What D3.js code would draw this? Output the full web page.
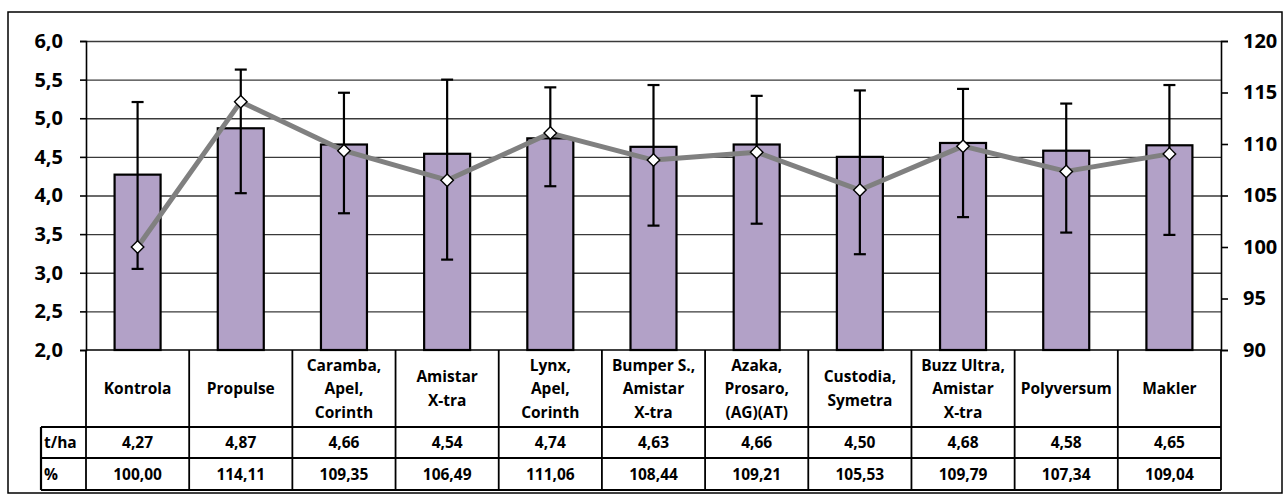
<!DOCTYPE html>
<html><head><meta charset="utf-8">
<script src="https://cdn.jsdelivr.net/npm/d3@7"></script>
<style>
html,body{margin:0;padding:0;background:#fff;}
svg{display:block;}
text{font-family:"Open Sans",Lato,sans-serif;font-weight:700;}
</style></head>
<body><svg id="c" width="1283" height="494"></svg>
<script>
const categories = [["Kontrola"],["Propulse"],["Caramba,","Apel,","Corinth"],["Amistar","X-tra"],["Lynx,","Apel,","Corinth"],["Bumper S.,","Amistar","X-tra"],["Azaka,","Prosaro,","(AG)(AT)"],["Custodia,","Symetra"],["Buzz Ultra,","Amistar","X-tra"],["Polyversum"],["Makler"]];
const yieldTha = [4.27,4.87,4.66,4.54,4.74,4.63,4.66,4.50,4.68,4.58,4.65];
const percent = [100.00,114.11,109.35,106.49,111.06,108.44,109.21,105.53,109.79,107.34,109.04];
const errHigh = [5.21,5.63,5.33,5.50,5.40,5.43,5.29,5.36,5.38,5.19,5.43];
const errLow  = [3.05,4.03,3.77,3.17,4.12,3.61,3.635,3.24,3.72,3.52,3.49];
const leftTicks = [2.0,2.5,3.0,3.5,4.0,4.5,5.0,5.5,6.0];
const rightTicks = [90,95,100,105,110,115,120];
const rowLabels = ["t/ha","%"];

const svg = d3.select("#c");
const X0 = 86, X1 = 1221, Y0 = 41, Y1 = 350;
const idx = d3.range(categories.length);
const x = d3.scaleBand().domain(idx).range([X0, X1]).paddingInner(0).paddingOuter(0);
const yL = d3.scaleLinear().domain([2,6]).range([Y1, Y0]);
const yR = d3.scaleLinear().domain([90,120]).range([Y1, Y0]);
const comma = (f) => (v) => d3.format(f)(v).replace(".", ",");

// outer frame
svg.append("rect").attr("x",8).attr("y",12).attr("width",1274).attr("height",481)
  .attr("fill","none").attr("stroke","#000").attr("stroke-width",1.5);

// gridlines
svg.append("g").selectAll("line").data(leftTicks.filter(d=>d>2)).join("line")
  .attr("x1",X0).attr("x2",X1).attr("y1",d=>yL(d)+0.5).attr("y2",d=>yL(d)+0.5)
  .attr("stroke","#3a3a3a").attr("stroke-width",1.3);

// axes
const axL = svg.append("g").attr("transform",`translate(${X0},0)`)
  .call(d3.axisLeft(yL).tickValues(leftTicks).tickFormat(comma(".1f")).tickSize(6).tickPadding(17));
const axR = svg.append("g").attr("transform",`translate(${X1},0)`)
  .call(d3.axisRight(yR).tickValues(rightTicks).tickFormat(d3.format("d")).tickSize(7).tickPadding(15));
[axL, axR].forEach(a=>{
  a.select(".domain").attr("stroke","#000").attr("stroke-width",1.6);
  a.selectAll(".tick line").attr("stroke","#000").attr("stroke-width",1.6);
  a.selectAll(".tick text").attr("font-size",20).attr("font-family",null).attr("fill","#000");
});

// bars
const bw = 46;
const cx = i => x(i) + x.bandwidth()/2;
svg.append("g").selectAll("rect").data(yieldTha).join("rect")
  .attr("x",(d,i)=>cx(i)-bw/2).attr("y",d=>yL(d)).attr("width",bw).attr("height",d=>Y1-yL(d))
  .attr("fill","#b2a1c7").attr("stroke","#000").attr("stroke-width",2.2);

// error bars
const eg = svg.append("g").attr("stroke","#000").attr("stroke-width",2.2);
idx.forEach(i=>{
  eg.append("line").attr("x1",cx(i)).attr("x2",cx(i)).attr("y1",yL(errHigh[i])).attr("y2",yL(errLow[i]));
  [errHigh[i],errLow[i]].forEach(v=>{
    eg.append("line").attr("x1",cx(i)-6).attr("x2",cx(i)+6).attr("y1",yL(v)).attr("y2",yL(v));
  });
});

// line
svg.append("path").datum(percent)
  .attr("d", d3.line().x((d,i)=>cx(i)).y(d=>yR(d)))
  .attr("fill","none").attr("stroke","#808080").attr("stroke-width",5).attr("stroke-linejoin","round");
svg.append("g").selectAll("path").data(percent).join("path")
  .attr("d", d3.symbol().type(d3.symbolDiamond2).size(100))
  .attr("transform",(d,i)=>`translate(${cx(i)},${yR(d)})`)
  .attr("fill","#fff").attr("stroke","#000").attr("stroke-width",1.4);

// table
const T0 = Y1, T1 = 427, T2 = 458, T3 = 490, LX = 41;
const tg = svg.append("g").attr("stroke","#000");
idx.concat([categories.length]).forEach(i=>{
  const xx = i < categories.length ? x(i) : X1;
  tg.append("line").attr("x1",xx).attr("x2",xx).attr("y1",T0).attr("y2",T3).attr("stroke-width",1.8);
});
[T1,T2,T3].forEach(yy=>{
  tg.append("line").attr("x1",LX).attr("x2",X1).attr("y1",yy).attr("y2",yy).attr("stroke-width",2.2);
});
tg.append("line").attr("x1",LX).attr("x2",LX).attr("y1",T1).attr("y2",T3).attr("stroke-width",2.2);
svg.append("line").attr("x1",X0).attr("x2",X1).attr("y1",T0).attr("y2",T0).attr("stroke","#000").attr("stroke-width",1.6);

const fs = 15.5;
const txt = svg.append("g").attr("fill","#000").attr("text-anchor","middle");
categories.forEach((lines,i)=>{
  const lh = 23.5, mid = (T0+T1)/2;
  lines.forEach((ln,j)=>{
    txt.append("text").attr("x",cx(i)).attr("y",mid + (j-(lines.length-1)/2)*lh).attr("dy","0.36em")
      .attr("font-size",fs).text(ln);
  });
  txt.append("text").attr("x",cx(i)).attr("y",(T1+T2)/2).attr("dy","0.36em").attr("font-size",fs).text(comma(".2f")(yieldTha[i]));
  txt.append("text").attr("x",cx(i)).attr("y",(T2+T3)/2).attr("dy","0.36em").attr("font-size",fs).text(comma(".2f")(percent[i]));
});
rowLabels.forEach((r,k)=>{
  txt.append("text").attr("text-anchor","start").attr("x",LX+3).attr("y",k===0?(T1+T2)/2:(T2+T3)/2).attr("dy","0.36em")
    .attr("font-size",fs).text(r);
});
</script></body></html>
